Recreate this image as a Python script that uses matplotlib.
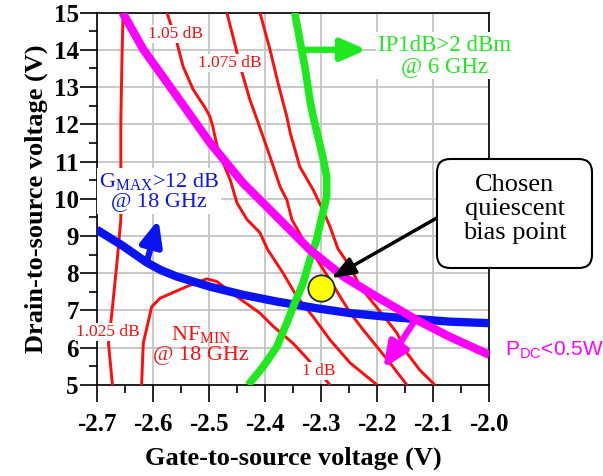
import numpy as np
import matplotlib
matplotlib.use('Agg')
import matplotlib.pyplot as plt
from matplotlib.ticker import MultipleLocator
from matplotlib.patches import FancyBboxPatch

plt.rcParams['font.family'] = ['Liberation Serif', 'DejaVu Serif']
plt.rcParams['axes.unicode_minus'] = False
plt.rcParams['mathtext.fontset'] = 'custom'
plt.rcParams['mathtext.rm'] = 'Liberation Serif'
plt.rcParams['mathtext.sf'] = 'Liberation Sans'

# NF_min contours (red)
nf_1025_x = [-2.653, -2.655, -2.657, -2.657, -2.657, -2.664, -2.673, -2.679, -2.672]
nf_1025_y = [15.0, 13.74, 12.12, 10.86, 9.44, 8.27, 6.93, 6.12, 5.0]

nf_1_x = [-2.620, -2.617, -2.602, -2.587, -2.540, -2.504, -2.486, -2.450, -2.409,
          -2.385, -2.350, -2.326, -2.284]
nf_1_y = [5.0, 6.12, 7.10, 7.33, 7.64, 7.85, 7.78, 7.37, 6.93, 6.57, 6.12, 5.73, 5.0]

nf_105_x = [-2.575, -2.557, -2.546, -2.528, -2.507, -2.498, -2.493, -2.486, -2.477,
            -2.462, -2.450, -2.432, -2.409, -2.395, -2.368, -2.343, -2.314, -2.284,
            -2.248, -2.200]
nf_105_y = [15.0, 14.19, 13.55, 12.93, 12.45, 12.20, 11.94, 11.45, 11.05, 10.51,
            9.89, 9.44, 9.09, 8.63, 8.01, 7.37, 6.83, 6.21, 5.59, 5.0]

nf_1075_x = [-2.468, -2.457, -2.441, -2.427, -2.414, -2.391, -2.373, -2.361, -2.352,
             -2.332, -2.307, -2.284, -2.266, -2.248, -2.225, -2.200, -2.177, -2.147]
nf_1075_y = [15.0, 14.35, 13.39, 12.66, 12.12, 11.13, 10.32, 9.97, 9.44, 8.90, 8.36,
             7.82, 7.37, 6.94, 6.48, 6.02, 5.59, 5.0]

nf_11_x = [-2.409, -2.391, -2.377, -2.361, -2.355, -2.338, -2.314, -2.297, -2.284,
           -2.270, -2.248, -2.230, -2.207, -2.183, -2.165, -2.147, -2.124, -2.097]
nf_11_y = [15.0, 14.0, 13.12, 12.20, 11.77, 10.86, 10.24, 9.70, 9.25, 8.66, 8.17,
           7.63, 7.20, 6.75, 6.40, 5.86, 5.40, 5.0]

# IP1dB > 2 dBm boundary (green)
ip_x = [-2.347, -2.338, -2.329, -2.320, -2.314, -2.307, -2.297, -2.290, -2.290,
        -2.299, -2.308, -2.320, -2.332, -2.347, -2.361, -2.379, -2.404, -2.430]
ip_y = [15.0, 14.27, 13.55, 12.66, 12.20, 11.77, 11.13, 10.59, 10.05, 9.49, 8.90,
        8.36, 7.74, 7.20, 6.67, 6.02, 5.48, 5.0]

# P_DC < 0.5 W boundary (magenta)
pdc_x = [-2.654, -2.617, -2.557, -2.498, -2.439, -2.379, -2.320, -2.260, -2.201,
         -2.130, -2.070, -2.0]
pdc_y = [15.0, 14.01, 12.75, 11.50, 10.42, 9.52, 8.63, 7.91, 7.37, 6.75, 6.29, 5.81]

# G_MAX > 12 dB boundary (blue)
gmax_x = [-2.7, -2.655, -2.611, -2.585, -2.557, -2.498, -2.439, -2.379, -2.308,
          -2.248, -2.189, -2.130, -2.070, -2.0]
gmax_y = [9.17, 8.75, 8.29, 8.08, 7.91, 7.64, 7.42, 7.24, 7.06, 6.93, 6.84, 6.77,
          6.70, 6.66]

x_ticks = [-2.7, -2.6, -2.5, -2.4, -2.3, -2.2, -2.1, -2.0]
y_ticks = [5, 6, 7, 8, 9, 10, 11, 12, 13, 14, 15]

bias_x, bias_y = -2.301, 7.60

red = '#ff0d0d'
green = '#1ee81e'
magenta = '#ff00ff'
blue = '#0a14f0'

fig = plt.figure(figsize=(6.03, 4.76), dpi=100)
ax = fig.add_axes([0.1604, 0.1912, 0.6511, 0.7825])

for xs, ys in [(nf_1025_x, nf_1025_y), (nf_1_x, nf_1_y), (nf_105_x, nf_105_y),
               (nf_1075_x, nf_1075_y), (nf_11_x, nf_11_y)]:
    ax.plot(xs, ys, color=red, lw=2.1, zorder=3, solid_capstyle='butt')

ax.plot(gmax_x, gmax_y, color=blue, lw=6, zorder=4, solid_capstyle='butt')
ax.plot(ip_x, ip_y, color=green, lw=5.5, zorder=4, solid_capstyle='butt')
ax.plot(pdc_x, pdc_y, color=magenta, lw=6, zorder=4, solid_capstyle='butt')

def fat_arrow(tail, tip, color):
    ax.annotate('', xy=tip, xytext=tail, zorder=5,
                arrowprops=dict(arrowstyle='-|>,head_length=1.25,head_width=0.55',
                                lw=4.5, color=color, shrinkA=0, shrinkB=0,
                                mutation_scale=12))

fat_arrow((-2.336, 14.0), (-2.219, 14.0), green)
fat_arrow((-2.611, 8.29), (-2.590, 9.44), blue)
fat_arrow((-2.136, 6.65), (-2.189, 5.45), magenta)

# contour labels
wbox = dict(boxstyle='square,pad=0.05', fc='white', ec='none')
ax.text(-2.5595, 14.42, '1.05 dB', color=red, fontsize=12.5, ha='center', va='center',
        bbox=wbox, zorder=6)
ax.text(-2.4624, 13.64, '1.075 dB', color=red, fontsize=12.5, ha='center', va='center',
        bbox=wbox, zorder=6)
ax.text(-2.6807, 6.42, '1.025 dB', color=red, fontsize=12.5, ha='center', va='center',
        bbox=wbox, zorder=6, clip_on=False)
ax.text(-2.305, 5.37, '1 dB', color=red, fontsize=12.5, ha='center', va='center',
        bbox=wbox, zorder=6)

ax.text(-2.514, 6.08, 'NF$_{\\mathrm{MIN}}$\n@ 18 GHz', color=red, fontsize=16,
        ha='center', va='center', linespacing=1.0, zorder=6)
ax.text(-2.589, 10.2, 'G$_{\\mathrm{MAX}}$>12 dB\n@ 18 GHz', color=blue, fontsize=16,
        ha='center', va='center', linespacing=1.0, zorder=6,
        bbox=dict(boxstyle='square,pad=0.1', fc='white', ec='none'))
ax.text(-2.079, 13.84, 'IP1dB>2 dBm\n@ 6 GHz', color=green, fontsize=16.5,
        ha='center', va='center', linespacing=1.0, zorder=6, clip_on=False,
        bbox=dict(boxstyle='square,pad=0.1', fc='white', ec='none'))
ax.text(-1.972, 5.94, 'P$_{\\mathsf{DC}}$<0.5W', color=magenta, fontsize=15,
        family='Liberation Sans', ha='left', va='center', zorder=6, clip_on=False)

# chosen bias point
ax.plot([bias_x], [bias_y], 'o', ms=19, mfc='#ffff00', mec='#1a2a3a', mew=1.3,
        zorder=7)
box = FancyBboxPatch((437 / 603, 208 / 476), 155 / 603, 109 / 476,
                     boxstyle='round,pad=0,rounding_size=0.022',
                     mutation_aspect=603 / 476, transform=fig.transFigure,
                     fc='white', ec='black', lw=1.5, zorder=8, clip_on=False)
fig.patches.append(box)
fig.text(515 / 603, 267 / 476, 'Chosen\nquiescent\nbias point', fontsize=19,
         ha='center', va='center', linespacing=1.12, zorder=9)
ax.annotate('', xy=(-2.2815, 7.87), xytext=(-2.093, 9.49), zorder=8,
            annotation_clip=False,
            arrowprops=dict(arrowstyle='-|>,head_length=1.2,head_width=0.45',
                            lw=2.5, color='black', shrinkA=0, shrinkB=0,
                            mutation_scale=12))

ax.set_xlim(-2.7, -2.0)
ax.set_ylim(5, 15)
ax.set_xticks(x_ticks)
ax.set_xticklabels(['%.1f' % v for v in x_ticks], fontweight='bold',
                   family='Liberation Serif', fontsize=18)
ax.set_yticks(y_ticks)
ax.set_yticklabels([str(v) for v in y_ticks], fontweight='bold',
                   family='Liberation Serif', fontsize=18)
ax.xaxis.set_minor_locator(MultipleLocator(0.05))
ax.yaxis.set_minor_locator(MultipleLocator(0.5))
ax.set_xlim(-2.7, -2.0)
ax.set_ylim(5, 15)
ax.grid(True, which='major', color='#c4c4c4', lw=1.3, zorder=0)
ax.set_axisbelow(True)
ax.tick_params(which='major', length=12, width=1.2)
ax.tick_params(which='minor', length=6, width=1.2)
ax.tick_params(axis='x', which='major', pad=8)
ax.tick_params(axis='y', which='major', pad=1)
for sp in ax.spines.values():
    sp.set_linewidth(1.2)

ax.set_xlabel('Gate-to-source voltage (V)', fontsize=19, fontweight='bold', labelpad=8)
ax.set_ylabel('Drain-to-source voltage (V)', fontsize=19, fontweight='bold', labelpad=4)

fig.savefig('out.png', dpi=100)
